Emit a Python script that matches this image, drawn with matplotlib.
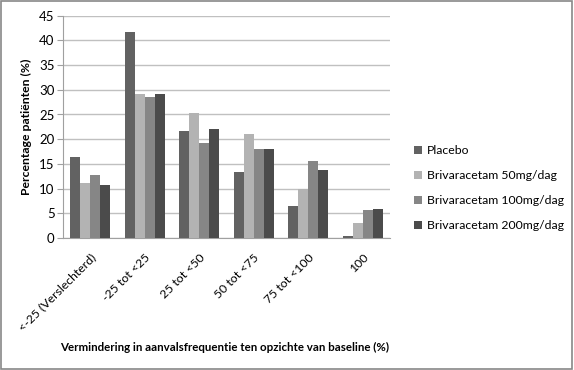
import matplotlib
matplotlib.use("Agg")
import matplotlib.pyplot as plt
import numpy as np

plt.rcParams['font.family'] = ['Lato', 'DejaVu Sans']

categories = ["<-25 (Verslechterd)", "-25 tot <25", "25 tot <50", "50 tot <75", "75 tot <100", "100"]
series_names = ["Placebo", "Brivaracetam 50mg/dag", "Brivaracetam 100mg/dag", "Brivaracetam 200mg/dag"]
placebo = [16.3, 41.6, 21.6, 13.3, 6.5, 0.5]
briv50 = [11.1, 29.2, 25.4, 21.1, 9.9, 3.1]
briv100 = [12.7, 28.6, 19.3, 18.1, 15.6, 5.6]
briv200 = [10.7, 29.2, 22.1, 18.1, 13.7, 5.9]
colors = ["#626262", "#b3b3b3", "#868686", "#4b4b4b"]

fig = plt.figure(figsize=(5.74, 3.70), dpi=100)
ax = fig.add_axes([63/574, 1-238/370, (390-63)/574, (238-15.7)/370])

x = np.arange(len(categories))
w = 0.183
for i, (vals, name, c) in enumerate(zip([placebo, briv50, briv100, briv200], series_names, colors)):
    ax.bar(x + (i - 1.5) * w, vals, width=w, color=c, label=name, zorder=3)

ax.set_xlim(-0.5, len(categories) - 0.5)
ax.set_ylim(0, 45)
ax.set_yticks(np.arange(0, 46, 5))
ax.yaxis.grid(True, color="#c0c0c0", linewidth=1, zorder=0)
for s in ["top", "right"]:
    ax.spines[s].set_visible(False)
ax.spines["left"].set_color("#a0a0a0")
ax.spines["bottom"].set_color("#a0a0a0")
ax.tick_params(axis="y", length=4, color="#a0a0a0", labelsize=9.5, pad=2)
ax.tick_params(axis="x", length=0, labelsize=8.8, pad=10)
ax.set_xticks(x)
ax.set_xticklabels(categories, rotation=45, ha="right", rotation_mode="anchor")
ax.set_ylabel("Percentage patiënten (%)", fontsize=8.8, fontweight="bold", labelpad=5)
fig.text(225 / 574, 1 - 347 / 370, "Vermindering in aanvalsfrequentie ten opzichte van baseline (%)",
         ha="center", va="center", fontsize=8.25, fontweight="bold")

leg = ax.legend(loc="upper left", bbox_to_anchor=(409/574, 1 - 140/370), bbox_transform=fig.transFigure,
                frameon=False, fontsize=8.8, handlelength=0.65, handleheight=0.65, handletextpad=0.4,
                labelspacing=1.15, borderaxespad=0)

# outer border
fig.patches.append(plt.Rectangle((0.002, 0.003), 0.995, 0.994, transform=fig.transFigure,
                                 fill=False, edgecolor="#888888", linewidth=1.2))

fig.savefig("out.png", dpi=100)
